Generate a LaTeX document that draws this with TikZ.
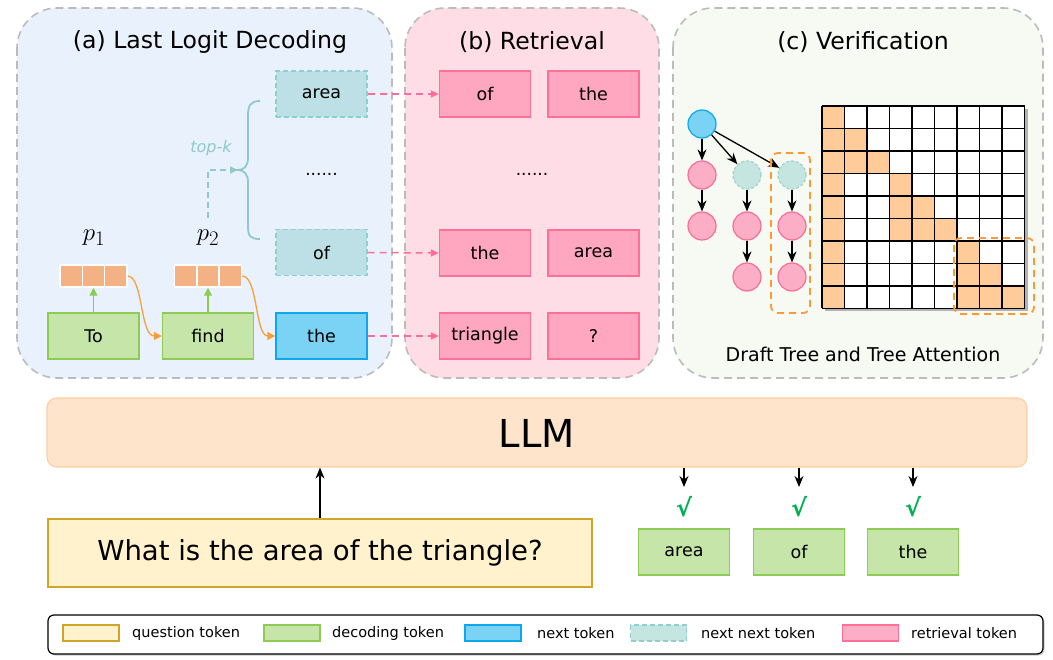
\documentclass[tikz,border=0pt]{standalone}
\usepackage{fontspec}
\setmainfont{DejaVu Sans}
\usetikzlibrary{arrows.meta,calc,shadows}
\definecolor{panA}{HTML}{E9F2FC}
\definecolor{panB}{HTML}{FFDDE6}
\definecolor{panC}{HTML}{F7F9F3}
\definecolor{panBorder}{HTML}{BBBBBB}
\definecolor{nnFill}{HTML}{BDE0E6}
\definecolor{nnBorder}{HTML}{8ECFD0}
\definecolor{nxFill}{HTML}{7AD3F5}
\definecolor{nxBorder}{HTML}{0BA8EB}
\definecolor{decFill}{HTML}{C6E5A8}
\definecolor{decBorder}{HTML}{8DCB55}
\definecolor{retFill}{HTML}{FFA6C0}
\definecolor{retBorder}{HTML}{FF7098}
\definecolor{vecFill}{HTML}{F4B183}
\definecolor{orangeLine}{HTML}{F7A03C}
\definecolor{qFill}{HTML}{FFF2CC}
\definecolor{qBorder}{HTML}{CFA52A}
\definecolor{llmFill}{HTML}{FFE4CC}
\definecolor{llmBorder}{HTML}{FFCFA3}
\definecolor{tealCirc}{HTML}{C5E5E0}
\definecolor{tealCircB}{HTML}{9ED3CC}
\definecolor{pinkCirc}{HTML}{FCAEC7}
\definecolor{pinkCircB}{HTML}{F56F98}
\definecolor{matO}{HTML}{FFCC99}
\definecolor{dashO}{HTML}{FF9A33}
\definecolor{chk}{HTML}{00B050}
\definecolor{pinkArrow}{HTML}{FF6E9A}
\definecolor{braceC}{HTML}{8ECACB}
\tikzset{
  panel/.style={draw=panBorder, line width=1.6pt, dash pattern=on 8pt off 5pt, rounded corners=40pt},
  tok/.style={line width=1.2pt, minimum width=91pt, minimum height=46pt, inner sep=0pt, font=\fontsize{17.5}{20}\selectfont},
  nnbox/.style={tok, draw=nnBorder, fill=nnFill, dash pattern=on 5pt off 3pt},
  nxbox/.style={tok, draw=nxBorder, fill=nxFill},
  decbox/.style={tok, draw=decBorder, fill=decFill},
  retbox/.style={tok, draw=retBorder, fill=retFill},
  vcell/.style={draw=white, line width=1.5pt, fill=vecFill, minimum width=22.3pt, minimum height=22pt, inner sep=0pt},
  title/.style={font=\fontsize{23.6}{28}\selectfont},
  pinkarr/.style={draw=pinkArrow, line width=1.5pt, dash pattern=on 7pt off 5pt, -{Triangle[length=8pt,width=7pt]}},
  orangearr/.style={draw=orangeLine, line width=1.3pt, -{Triangle[length=8pt,width=8pt]}},
  greenarr/.style={draw=decBorder, line width=1.3pt, -{Triangle[length=8pt,width=8pt]}},
  blackarr/.style={draw=black, line width=1.3pt, -{Stealth[length=11pt,width=9pt]}},
  circ/.style={circle, minimum size=28pt, inner sep=0pt, line width=1.2pt},
  pinkc/.style={circ, draw=pinkCircB, fill=pinkCirc},
  tealc/.style={circ, draw=tealCircB, fill=tealCirc, dash pattern=on 3pt off 2pt},
  bluec/.style={circ, draw=nxBorder, fill=nxFill},
  odash/.style={draw=dashO, line width=1.8pt, dash pattern=on 7pt off 5pt, rounded corners=7pt},
  legtxt/.style={anchor=west, font=\fontsize{14.5}{17}\selectfont, inner sep=0pt},
  legsw/.style={minimum width=56pt, minimum height=16pt, inner sep=0pt, line width=1.2pt},
  chkmark/.style={font=\fontsize{24}{28}\selectfont\bfseries, text=chk}
}
\begin{document}
\begin{tikzpicture}[x=1pt, y=-1pt]
\useasboundingbox (0,0) rectangle (1053,660);
\fill[white] (0,0) rectangle (1053,660);

% panels
\draw[panel, fill=panA] (17,8) rectangle (392,378);
\draw[panel, fill=panB] (405,8) rectangle (659,378);
\draw[panel, fill=panC] (673,8) rectangle (1043,378);
\node[title] (ta) at (210,42) {(a) Last Logit Decoding};
\node[title] (tb) at (532,42) {(b) Retrieval};
\node[title] (tc) at (863,42) {(c) Verification};

% (a)
\node[nnbox] (aArea) at (321.5,94) {area};
\node[nnbox] (aOf) at (321.5,252.5) {of};
\node[nxbox] (aThe) at (321.5,336) {the};
\node[decbox] (aTo) at (93.5,336) {To};
\node[decbox] (aFind) at (208,336) {find};
\node[font=\fontsize{17}{20}\selectfont] (aDots) at (321.5,174) {......};
\node[vcell] (v1a) at (71.2,276) {};
\node[vcell] (v1b) at (93.5,276) {};
\node[vcell] (v1c) at (115.8,276) {};
\node[vcell] (v2a) at (185.7,276) {};
\node[vcell] (v2b) at (208,276) {};
\node[vcell] (v2c) at (230.3,276) {};
\node[font=\fontsize{31}{34}\selectfont] (p1) at (94,238) {$p_1$};
\node[font=\fontsize{31}{34}\selectfont] (p2) at (208,238) {$p_2$};
\draw[greenarr] (aTo.north) -- (v1b.south);
\draw[greenarr] (aFind.north) -- (v2b.south);
\draw[orangearr] (v1c.east) .. controls (143,276) and (140,336) .. (aFind.west);
\draw[orangearr] (v2c.east) .. controls (258,276) and (255,336) .. (aThe.west);
\coordinate (tkStart) at (208,218);
\coordinate (braceTip) at (238,170);
\draw[draw=braceC, line width=1.6pt, dash pattern=on 6pt off 4pt, -{Triangle[length=8pt,width=7pt]}] (tkStart) |- (braceTip);
\draw[draw=braceC, line width=1.8pt] (260,101) .. controls (250,101) and (248,106) .. (248,116)
  -- (248,158) .. controls (248,166) and (244,170) .. (238,170)
  .. controls (244,170) and (248,174) .. (248,182)
  -- (248,226) .. controls (248,236) and (250,239) .. (260,239);
\node[font=\fontsize{16}{19}\selectfont\itshape, text=braceC] (topk) at (211,148) {top-k};

% (b)
\node[retbox] (bOf) at (485,94) {of};
\node[retbox] (bThe1) at (593.5,94) {the};
\node[retbox] (bThe2) at (485,253) {the};
\node[retbox] (bArea) at (593.5,253) {area};
\node[retbox] (bTri) at (485,336) {triangle};
\node[retbox] (bQ) at (593.5,336) {?};
\node[font=\fontsize{17}{20}\selectfont] (bDots) at (532,174) {......};
\draw[pinkarr] (aArea.east) -- (bOf.west);
\draw[pinkarr] (aOf.east) -- (bThe2.west);
\draw[pinkarr] (aThe.east) -- (bTri.west);

% (c) tree
\node[bluec] (root) at (702,124) {};
\node[pinkc] (t12) at (702,175) {};
\node[pinkc] (t13) at (702,226) {};
\node[tealc] (t22) at (747,175) {};
\node[pinkc] (t23) at (747,226) {};
\node[pinkc] (t24) at (747,277) {};
\node[tealc] (t32) at (792,175) {};
\node[pinkc] (t33) at (792,226) {};
\node[pinkc] (t34) at (792,277) {};
\draw[blackarr] (root) -- (t12);
\draw[blackarr] (root) -- (t22);
\draw[blackarr] (root) -- (t32);
\draw[blackarr] (t12) -- (t13);
\draw[blackarr] (t22) -- (t23);
\draw[blackarr] (t23) -- (t24);
\draw[blackarr] (t32) -- (t33);
\draw[blackarr] (t33) -- (t34);
\draw[odash] (771,153) rectangle (810,313);

% grid
\fill[black!30] (825,109) rectangle (1027.5,311.5);
\fill[white] (822,106) rectangle (1024.5,308.5);
\foreach \r/\c in {0/0,1/0,1/1,2/0,2/1,2/2,3/0,3/3,4/0,4/3,4/4,5/0,5/3,5/4,5/5,6/0,6/6,7/0,7/6,7/7,8/0,8/6,8/7,8/8}
  \fill[matO] ({822+\c*22.5},{106+\r*22.5}) rectangle ++(22.5,22.5);
\foreach \i in {0,...,9} {
  \draw[line width=1.25pt] ({822+\i*22.5},106) -- ++(0,202.5);
  \draw[line width=1.25pt] (822,{106+\i*22.5}) -- ++(202.5,0);
}
\draw[odash] (954,238) rectangle (1034,314);
\node[font=\fontsize{19}{22}\selectfont] (cap) at (863,354) {Draft Tree and Tree Attention};

% LLM
\node[draw=llmBorder, fill=llmFill, line width=1.2pt, rounded corners=10pt, minimum width=980pt, minimum height=69pt, inner sep=0pt] (llm) at (537,432.5) {};
\node[font=\fontsize{38.5}{42}\selectfont] (llmt) at (537,433) {LLM};
\node[draw=qBorder, fill=qFill, line width=1.2pt, minimum width=544pt, minimum height=68pt, inner sep=0pt, font=\fontsize{27.5}{32}\selectfont] (q) at (320,553) {What is the area of the triangle?};
\draw[blackarr] (q.north) -- (q.north |- llm.south);

\node[decbox] (o1) at (684,552) {area};
\node[decbox] (o2) at (799,552) {of};
\node[decbox] (o3) at (913,552) {the};
\coordinate (e1) at (684,487);
\coordinate (e2) at (799,487);
\coordinate (e3) at (913,487);
\draw[blackarr] (llm.south -| e1) -- (e1);
\draw[blackarr] (llm.south -| e2) -- (e2);
\draw[blackarr] (llm.south -| e3) -- (e3);
\node[chkmark] (k1) at (684,507) {√};
\node[chkmark] (k2) at (799,507) {√};
\node[chkmark] (k3) at (913,507) {√};

% legend
\node[draw=black, fill=white, line width=1.2pt, rounded corners=6pt, minimum width=995pt, minimum height=39pt, inner sep=0pt, drop shadow={shadow xshift=1.5pt, shadow yshift=-1.5pt, opacity=0.4}] (leg) at (545.5,634.5) {};
\node[legsw, draw=qBorder, fill=qFill] (s1) at (91,633) {};
\node[legtxt] (l1) at (132,633) {question token};
\node[legsw, draw=decBorder, fill=decFill] (s2) at (292,633) {};
\node[legtxt] (l2) at (332,633) {decoding token};
\node[legsw, draw=nxBorder, fill=nxFill] (s3) at (493,633) {};
\node[legtxt] (l3) at (537,633) {next token};
\node[legsw, draw=nnBorder, fill=tealCirc, dash pattern=on 5pt off 3pt] (s4) at (658.5,633) {};
\node[legtxt] (l4) at (701,633) {next next token};
\node[legsw, draw=retBorder, fill=pinkCirc] (s5) at (870.5,633) {};
\node[legtxt] (l5) at (911,633) {retrieval token};
\end{tikzpicture}
\end{document}
